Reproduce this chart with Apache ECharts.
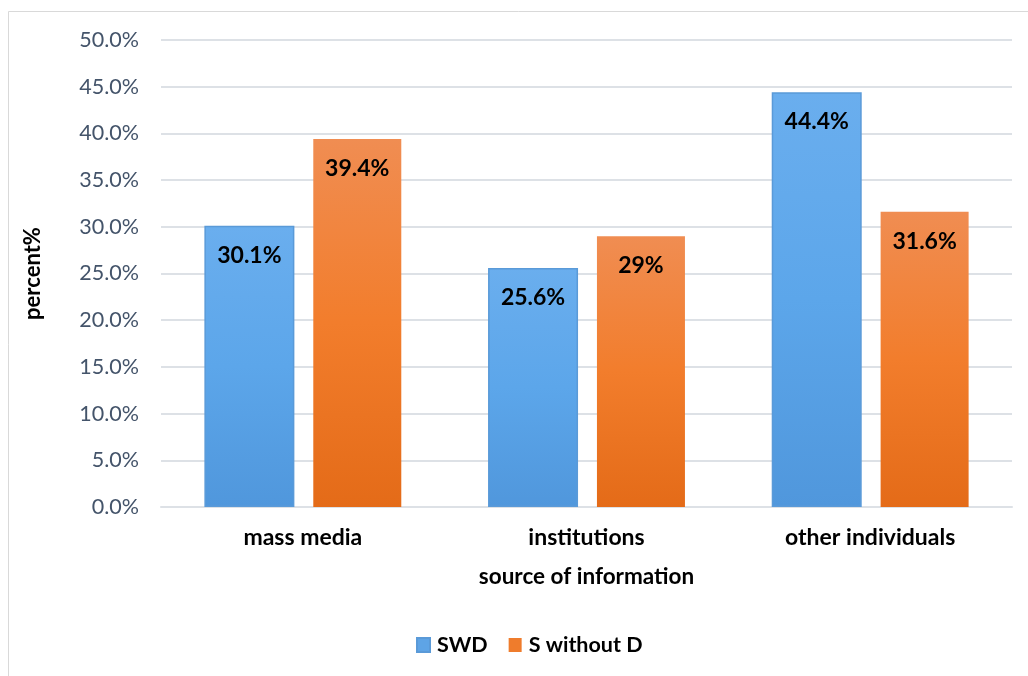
<!DOCTYPE html>
<html>
<head>
<meta charset="utf-8">
<script src="https://cdn.jsdelivr.net/npm/echarts@6/dist/echarts.min.js"></script>
<style>
  html, body { margin: 0; padding: 0; background: #fff; }
  #chart { width: 1028px; height: 676px; }
</style>
</head>
<body>
<div id="chart"></div>
<script>
// Sources of information, share of respondents per group
const categories = ['mass media', 'institutions', 'other individuals'];
const swdValues = [30.1, 25.6, 44.4];
const sWithoutDValues = [39.4, 29, 31.6];
const seriesNames = ['SWD', 'S without D'];
const yTicks = { min: 0, max: 50, interval: 5 };

const font = 'Lato, "Open Sans", "Liberation Sans", sans-serif';

const blueFill = new echarts.graphic.LinearGradient(0, 0, 0, 1, [
  { offset: 0, color: '#6aaeee' },
  { offset: 0.5, color: '#5ca6ea' },
  { offset: 1, color: '#5097dc' }
]);
const orangeFill = new echarts.graphic.LinearGradient(0, 0, 0, 1, [
  { offset: 0, color: '#f08d52' },
  { offset: 0.5, color: '#f27d2c' },
  { offset: 1, color: '#e46b18' }
]);

const valueLabel = {
  show: true,
  position: 'insideTop',
  distance: 18,
  formatter: p => p.value + '%',
  color: '#000',
  fontFamily: font,
  fontWeight: 'bold',
  fontSize: 23
};

const chart = echarts.init(document.getElementById('chart'), null, { renderer: 'canvas' });
chart.setOption({
  animation: false,
  backgroundColor: '#fff',
  graphic: [{
    type: 'rect',
    shape: { x: 8.5, y: 11.5, width: 1100, height: 800 },
    style: { fill: 'none', stroke: '#d9d9d9', lineWidth: 1 },
    silent: true
  }],
  grid: { left: 161, right: 16, top: 40, bottom: 169 },
  legend: {
    top: 629,
    left: 411,
    itemWidth: 13,
    itemHeight: 14,
    itemGap: 21,
    icon: 'rect',
    textStyle: { color: '#000', fontFamily: font, fontWeight: 'bold', fontSize: 21.5, padding: [0, 0, 0, 2] },
    data: [
      { name: seriesNames[0], itemStyle: { color: '#5ea4e6' } },
      { name: seriesNames[1], itemStyle: { color: '#ef7c2c' } }
    ]
  },
  xAxis: {
    type: 'category',
    data: categories,
    axisTick: { show: false },
    axisLine: { lineStyle: { color: '#dde1e6', width: 2 } },
    axisLabel: { color: '#000', fontFamily: font, fontWeight: 'bold', fontSize: 23, margin: 19 },
    name: 'source of information',
    nameLocation: 'middle',
    nameGap: 58,
    nameTextStyle: { color: '#000', fontFamily: font, fontWeight: 'bold', fontSize: 22.5 }
  },
  yAxis: {
    type: 'value',
    min: yTicks.min,
    max: yTicks.max,
    interval: yTicks.interval,
    axisLine: { show: false },
    axisTick: { show: false },
    splitLine: { lineStyle: { color: '#dde1e6', width: 2 } },
    axisLabel: {
      color: '#44546a',
      fontFamily: font,
      fontSize: 21.5,
      margin: 22,
      formatter: v => v.toFixed(1) + '%'
    },
    name: 'percent%',
    nameLocation: 'middle',
    nameRotate: 90,
    nameGap: 117,
    nameTextStyle: { color: '#000', fontFamily: font, fontWeight: 'bold', fontSize: 22 }
  },
  series: [
    {
      name: seriesNames[0],
      type: 'bar',
      data: swdValues,
      barWidth: 90,
      barGap: '21%',
      itemStyle: { color: blueFill, borderColor: '#5a9ad8', borderWidth: 1.5 },
      label: valueLabel
    },
    {
      name: seriesNames[1],
      type: 'bar',
      data: sWithoutDValues,
      barWidth: 88,
      itemStyle: { color: orangeFill },
      label: valueLabel
    }
  ]
});
</script>
</body>
</html>
